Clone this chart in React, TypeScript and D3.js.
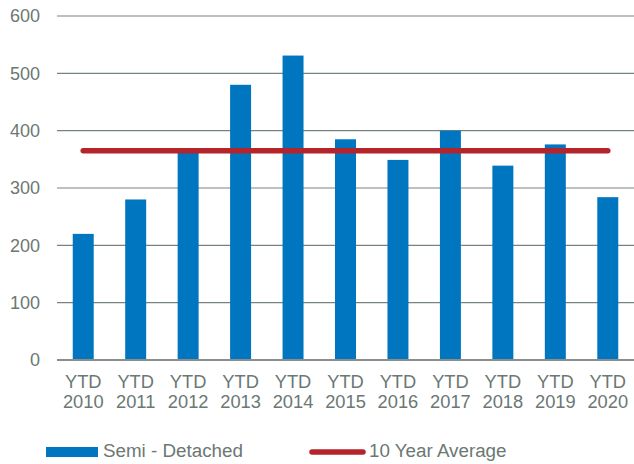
import React from "react";
import * as d3 from "d3";

const categories = [
  "YTD 2010", "YTD 2011", "YTD 2012", "YTD 2013", "YTD 2014", "YTD 2015",
  "YTD 2016", "YTD 2017", "YTD 2018", "YTD 2019", "YTD 2020",
];
const semiDetached = [220, 280, 362, 480, 531, 385, 349, 400, 339, 376, 284];
const tenYearAverage = [365, 365, 365, 365, 365, 365, 365, 365, 365, 365, 365];
const yTicks = [0, 100, 200, 300, 400, 500, 600];

const width = 634;
const height = 464;
const margin = { top: 16, right: 0, bottom: 104, left: 57 };

const blue = "#0076C0";
const red = "#B5232B";
const textColor = "#6B7873";
const gridColor = "#76837E";
const font = "'Liberation Sans', Arial, sans-serif";

const App = () => {
  const x = d3
    .scaleBand()
    .domain(categories)
    .range([margin.left, width - margin.right])
    .paddingInner(0.6)
    .paddingOuter(0.3);

  const y = d3
    .scaleLinear()
    .domain([0, 600])
    .range([height - margin.bottom, margin.top]);

  const line = d3
    .line<number>()
    .x((d, i) => x(categories[i])! + x.bandwidth() / 2)
    .y((d) => y(d));

  return (
    <svg
      width={width}
      height={height}
      style={{ position: "absolute", left: 0, top: 0, fontFamily: font }}
    >
      {/* grid */}
      {yTicks.map((t) => (
        <g key={t}>
          {t !== 0 && (
            <line
              x1={margin.left}
              x2={width}
              y1={y(t)}
              y2={y(t)}
              stroke={gridColor}
              strokeWidth={1.2}
            />
          )}
          <text
            x={40}
            y={y(t)}
            dy="0.36em"
            textAnchor="end"
            fontSize={18}
            fill={textColor}
          >
            {t}
          </text>
        </g>
      ))}

      {/* bars */}
      {semiDetached.map((v, i) => (
        <rect
          key={categories[i]}
          x={x(categories[i])}
          y={y(v)}
          width={x.bandwidth()}
          height={y(0) - y(v)}
          fill={blue}
        />
      ))}

      {/* baseline */}
      <line
        x1={margin.left}
        x2={width}
        y1={y(0)}
        y2={y(0)}
        stroke="#8A8F8D"
        strokeWidth={2}
      />

      {/* average line */}
      <path
        d={line(tenYearAverage) || ""}
        fill="none"
        stroke={red}
        strokeWidth={5.5}
        strokeLinecap="round"
      />

      {/* x labels */}
      {categories.map((c) => {
        const [a, b] = c.split(" ");
        const cx = x(c)! + x.bandwidth() / 2;
        return (
          <text
            key={c}
            x={cx}
            textAnchor="middle"
            fontSize={18.3}
            fill={textColor}
          >
            <tspan x={cx} y={388}>
              {a}
            </tspan>
            <tspan x={cx} y={408}>
              {b}
            </tspan>
          </text>
        );
      })}

      {/* legend */}
      <rect x={46} y={447} width={52} height={10} fill={blue} />
      <text x={103} y={457} fontSize={18.8} fill={textColor}>
        Semi - Detached
      </text>
      <line
        x1={312}
        x2={363}
        y1={452}
        y2={452}
        stroke={red}
        strokeWidth={5.5}
        strokeLinecap="round"
      />
      <text x={369} y={457} fontSize={18.8} fill={textColor}>
        10 Year Average
      </text>
    </svg>
  );
};

export default App;
